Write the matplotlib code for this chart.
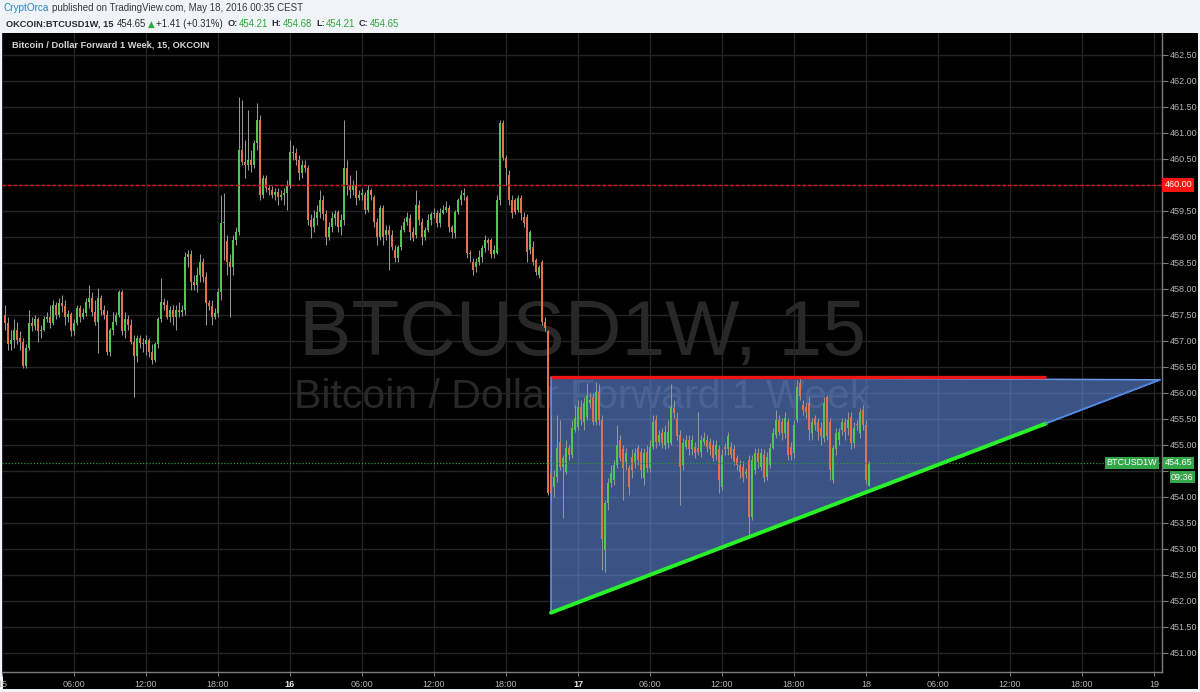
import numpy as np
import pandas as pd
import matplotlib
matplotlib.use("Agg")
import matplotlib.pyplot as plt
import matplotlib.dates as mdates
from matplotlib.patches import Rectangle, Polygon
from matplotlib.transforms import blended_transform_factory

plt.rcParams['font.family'] = ['Liberation Sans', 'DejaVu Sans']

# ---------------- data ----------------
start_time = '2016-05-15 00:15'
bar_freq = '15min'

opens = [457.50, 457.35, 456.93, 457.02, 457.21, 457.06, 456.98, 456.52, 456.87, 457.35,
         457.29, 457.41, 457.18, 457.21, 457.41, 457.46, 457.35, 457.69, 457.50, 457.73,
         457.67, 457.45, 457.52, 457.18, 457.35, 457.64, 457.45, 457.54, 457.75, 457.83,
         457.56, 457.37, 457.83, 457.60, 457.50, 456.79, 457.21, 457.37, 457.50, 457.93,
         457.18, 457.41, 457.31, 456.98, 456.70, 457.06, 456.96, 456.93, 457.02, 456.79,
         456.64, 456.93, 457.41, 457.75, 457.69, 457.46, 457.60, 457.46, 457.60, 457.56,
         457.60, 458.62, 458.66, 458.14, 458.08, 458.27, 458.52, 458.23, 457.73, 457.66,
         457.45, 457.54, 457.94, 459.27, 458.91, 458.52, 458.41, 458.94, 459.10, 460.67,
         460.44, 460.39, 460.48, 460.39, 460.81, 461.25, 459.81, 460.14, 459.94, 459.91,
         459.81, 459.87, 459.77, 459.81, 459.85, 460.00, 460.64, 460.62, 460.48, 460.23,
         460.39, 460.33, 459.33, 459.18, 459.37, 459.48, 459.71, 459.43, 459.00, 459.18,
         459.37, 459.48, 459.18, 459.33, 460.33, 460.00, 459.91, 460.00, 459.75, 459.81,
         459.81, 459.52, 459.91, 459.77, 459.29, 459.00, 459.56, 459.04, 459.14, 459.04,
         458.75, 458.60, 458.81, 459.14, 459.29, 459.37, 459.10, 459.04, 459.62, 459.29,
         459.00, 459.14, 459.33, 459.43, 459.46, 459.27, 459.46, 459.52, 459.56, 459.18,
         459.08, 459.48, 459.71, 459.81, 459.77, 458.69, 458.52, 458.41, 458.52, 458.62,
         458.79, 458.94, 458.94, 458.66, 458.69, 459.71, 461.19, 460.52, 460.19, 459.71,
         459.71, 459.52, 459.75, 459.39, 459.39, 458.75, 458.81, 458.56, 458.27, 458.52,
         457.37, 457.18, 454.43, 454.19, 454.39, 455.06, 454.58, 454.48, 454.94, 454.81,
         455.29, 455.35, 455.73, 455.43, 455.54, 455.81, 455.91, 455.44, 456.02, 455.48,
         452.98, 453.89, 454.27, 454.33, 454.62, 455.10, 454.91, 454.66, 454.56, 454.77,
         454.66, 454.94, 454.87, 454.37, 454.87, 454.56, 454.96, 455.48, 455.06, 455.23,
         455.00, 455.04, 455.04, 455.71, 455.52, 455.19, 454.62, 454.96, 455.10, 454.91,
         454.96, 454.94, 454.87, 455.06, 455.10, 455.06, 455.00, 454.81, 454.91, 454.19,
         454.96, 454.91, 454.96, 454.91, 454.75, 454.62, 454.58, 454.43, 454.71, 453.62,
         454.52, 454.85, 454.58, 454.81, 454.39, 454.62, 454.94, 455.19, 455.48, 455.43,
         455.23, 455.44, 454.96, 454.85, 455.48, 456.19, 455.77, 455.73, 455.81, 455.23,
         455.52, 455.43, 455.33, 455.14, 455.91, 455.44, 454.33, 454.91, 455.10, 455.29,
         455.43, 455.33, 455.54, 455.04, 455.39, 455.23, 455.67, 455.39, 454.21]

highs = [457.69, 457.45, 457.21, 457.41, 457.37, 457.18, 457.06, 456.93, 457.60, 457.45,
         457.50, 457.45, 457.31, 457.48, 457.56, 457.69, 457.79, 457.75, 457.83, 457.89,
         457.79, 457.60, 457.56, 457.41, 457.69, 457.69, 457.64, 457.83, 458.08, 457.94,
         457.79, 458.02, 457.89, 457.69, 457.60, 457.25, 457.56, 457.56, 457.98, 457.98,
         457.56, 457.50, 457.41, 457.12, 457.12, 457.12, 457.06, 457.12, 457.06, 456.93,
         456.98, 457.45, 458.21, 457.83, 457.79, 457.67, 457.69, 457.69, 457.75, 457.69,
         458.71, 458.75, 458.75, 458.27, 458.41, 458.66, 458.60, 458.33, 457.79, 457.79,
         457.64, 458.02, 459.81, 459.85, 459.04, 458.66, 459.04, 459.18, 461.68, 461.64,
         460.87, 461.44, 460.67, 460.87, 461.58, 461.35, 460.19, 460.19, 460.00, 459.98,
         459.94, 459.94, 459.91, 459.94, 460.10, 460.87, 460.77, 460.71, 460.58, 460.48,
         460.48, 460.39, 459.43, 459.52, 459.62, 459.91, 459.81, 459.52, 459.29, 459.48,
         459.52, 459.52, 459.43, 461.25, 460.48, 460.19, 460.10, 460.29, 459.91, 459.94,
         459.87, 460.00, 459.94, 459.81, 459.37, 459.62, 459.62, 459.23, 459.23, 459.14,
         458.85, 458.85, 459.23, 459.37, 459.48, 459.43, 459.18, 459.91, 459.71, 459.37,
         459.18, 459.43, 459.48, 459.56, 459.52, 459.56, 459.62, 459.68, 459.62, 459.23,
         459.52, 459.75, 459.91, 459.94, 459.81, 458.75, 458.60, 458.60, 458.75, 458.85,
         459.04, 458.98, 458.98, 458.85, 459.81, 461.25, 461.25, 460.58, 460.29, 459.81,
         459.75, 459.81, 459.81, 459.48, 459.43, 459.14, 458.91, 458.60, 458.46, 458.56,
         457.45, 457.21, 455.58, 454.52, 455.58, 455.48, 454.81, 455.10, 455.00, 455.48,
         455.77, 455.87, 455.87, 455.91, 456.19, 456.02, 456.00, 456.21, 456.16, 455.58,
         453.94, 454.37, 454.62, 454.71, 455.39, 455.19, 455.00, 454.94, 454.62, 454.91,
         454.94, 455.00, 454.94, 454.94, 455.00, 455.10, 455.58, 455.58, 455.29, 455.33,
         455.39, 455.48, 456.16, 455.87, 455.64, 455.29, 455.14, 455.19, 455.19, 455.19,
         455.06, 455.64, 455.19, 455.25, 455.19, 455.14, 455.10, 455.10, 455.00, 454.91,
         455.04, 455.25, 455.06, 455.00, 454.81, 454.71, 454.68, 454.56, 454.81, 454.81,
         454.94, 454.94, 454.94, 454.91, 454.87, 455.04, 455.33, 455.67, 455.58, 455.52,
         455.64, 455.52, 455.06, 455.48, 456.25, 456.29, 455.87, 455.83, 455.91, 455.52,
         455.58, 455.52, 455.44, 455.91, 455.96, 455.52, 455.00, 455.33, 455.33, 455.52,
         455.52, 455.64, 455.64, 455.43, 455.48, 455.71, 455.77, 455.48, 454.68]

lows = [457.21, 456.83, 456.83, 456.87, 456.93, 456.83, 456.48, 456.48, 456.83, 457.18,
        457.21, 456.98, 457.06, 457.18, 457.37, 457.25, 457.31, 457.41, 457.45, 457.56,
        457.31, 457.37, 457.10, 457.12, 457.31, 457.37, 457.41, 457.48, 457.64, 457.48,
        457.31, 456.77, 457.50, 457.41, 456.73, 456.71, 457.12, 457.31, 457.45, 457.12,
        457.06, 457.21, 456.93, 455.91, 456.60, 456.87, 456.79, 456.73, 456.68, 456.56,
        456.60, 456.87, 457.37, 457.60, 457.41, 457.37, 457.31, 457.21, 457.45, 457.48,
        457.50, 458.41, 457.98, 457.98, 457.94, 458.14, 458.14, 457.31, 457.60, 457.31,
        457.41, 457.45, 457.79, 458.56, 458.27, 457.45, 458.27, 458.85, 459.04, 460.39,
        460.14, 460.29, 460.25, 460.33, 460.67, 459.71, 459.75, 459.87, 459.81, 459.75,
        459.71, 459.62, 459.71, 459.62, 459.52, 459.94, 460.48, 460.39, 460.10, 460.14,
        460.25, 459.23, 458.98, 459.10, 459.23, 459.37, 459.33, 458.85, 458.94, 459.10,
        459.23, 459.10, 459.04, 459.23, 459.81, 459.75, 459.81, 459.62, 459.71, 459.71,
        459.43, 459.48, 459.71, 459.18, 458.85, 458.94, 458.85, 458.94, 458.37, 458.75,
        458.52, 458.52, 458.75, 459.10, 459.23, 458.94, 458.91, 458.98, 459.23, 458.85,
        458.94, 459.10, 459.23, 459.37, 459.18, 459.18, 459.43, 459.48, 459.10, 458.98,
        458.98, 459.43, 459.62, 459.71, 458.60, 458.52, 458.27, 458.33, 458.46, 458.52,
        458.71, 458.75, 458.60, 458.60, 458.66, 459.62, 460.48, 460.00, 459.62, 459.37,
        459.43, 459.48, 459.33, 459.18, 458.52, 458.66, 458.46, 458.27, 458.21, 457.31,
        457.18, 454.04, 453.94, 454.00, 454.29, 454.52, 453.60, 454.43, 454.71, 454.75,
        455.25, 455.29, 455.39, 455.29, 455.48, 455.71, 455.39, 455.39, 455.39, 452.60,
        452.56, 453.75, 454.18, 454.23, 454.56, 454.68, 453.94, 454.52, 454.04, 454.37,
        454.56, 454.62, 454.37, 454.23, 454.48, 454.48, 454.91, 454.94, 455.00, 454.94,
        454.91, 454.94, 455.00, 455.52, 455.10, 453.85, 454.52, 454.91, 454.81, 454.81,
        454.75, 454.81, 454.77, 455.00, 454.87, 454.81, 454.68, 454.71, 454.08, 454.14,
        454.81, 454.81, 454.75, 454.62, 454.52, 454.37, 454.29, 454.37, 453.23, 453.56,
        454.43, 454.56, 454.52, 454.29, 454.33, 454.56, 454.91, 455.14, 455.19, 455.10,
        455.14, 454.71, 454.71, 454.75, 455.43, 455.87, 455.58, 455.52, 455.10, 455.10,
        455.29, 455.10, 455.00, 455.06, 455.10, 454.33, 454.27, 454.81, 455.00, 455.19,
        455.10, 455.19, 454.91, 454.94, 455.29, 455.14, 455.29, 454.25, 454.21]

closes = [457.35, 456.93, 457.02, 457.21, 457.02, 456.98, 456.52, 456.87, 457.35, 457.29,
          457.41, 457.18, 457.21, 457.41, 457.46, 457.35, 457.69, 457.50, 457.73, 457.67,
          457.45, 457.52, 457.18, 457.35, 457.64, 457.45, 457.54, 457.75, 457.83, 457.56,
          457.37, 457.83, 457.60, 457.50, 456.79, 457.21, 457.37, 457.50, 457.93, 457.18,
          457.41, 457.31, 456.98, 456.70, 457.06, 456.96, 456.93, 457.02, 456.79, 456.64,
          456.93, 457.41, 457.75, 457.69, 457.46, 457.60, 457.46, 457.60, 457.56, 457.60,
          458.62, 458.66, 458.14, 458.08, 458.27, 458.52, 458.23, 457.73, 457.66, 457.45,
          457.54, 457.94, 459.27, 459.29, 458.52, 458.41, 458.94, 459.10, 460.67, 460.44,
          460.39, 460.48, 460.39, 460.81, 461.25, 459.81, 460.14, 459.94, 459.91, 459.81,
          459.87, 459.77, 459.81, 459.85, 460.00, 460.64, 460.62, 460.48, 460.23, 460.39,
          460.33, 459.33, 459.18, 459.37, 459.48, 459.71, 459.43, 459.00, 459.18, 459.37,
          459.43, 459.18, 459.33, 460.33, 460.00, 459.91, 460.00, 459.75, 459.81, 459.85,
          459.52, 459.91, 459.81, 459.29, 459.00, 459.56, 459.00, 459.14, 459.04, 458.81,
          458.60, 458.81, 459.14, 459.29, 459.39, 459.10, 458.98, 459.62, 459.33, 459.00,
          459.14, 459.33, 459.43, 459.46, 459.27, 459.46, 459.52, 459.58, 459.18, 459.10,
          459.48, 459.71, 459.81, 459.85, 458.69, 458.66, 458.37, 458.52, 458.62, 458.79,
          458.94, 458.89, 458.66, 458.75, 459.71, 461.19, 460.52, 460.33, 459.71, 459.46,
          459.48, 459.75, 459.46, 459.27, 458.71, 459.10, 458.52, 458.33, 458.41, 457.37,
          457.25, 454.08, 454.08, 454.39, 454.94, 454.58, 454.75, 454.94, 454.81, 455.33,
          455.52, 455.73, 455.48, 455.81, 455.93, 455.87, 455.44, 456.02, 455.48, 453.18,
          453.89, 454.27, 454.46, 454.62, 455.00, 454.75, 454.56, 454.85, 454.18, 454.52,
          454.85, 454.71, 454.52, 454.85, 454.56, 454.96, 455.44, 455.06, 455.19, 455.04,
          455.25, 455.25, 455.73, 455.62, 455.16, 454.58, 455.04, 455.10, 454.91, 455.10,
          454.85, 454.87, 455.10, 455.14, 454.96, 454.91, 454.75, 455.00, 454.33, 454.81,
          454.91, 455.16, 454.81, 454.68, 454.62, 454.48, 454.39, 454.48, 453.62, 454.71,
          454.85, 454.66, 454.85, 454.37, 454.77, 454.94, 455.23, 455.48, 455.25, 455.23,
          455.52, 454.81, 454.81, 455.39, 456.12, 455.93, 455.67, 455.64, 455.29, 455.43,
          455.39, 455.25, 455.16, 455.81, 455.16, 454.52, 454.94, 455.23, 455.25, 455.43,
          455.25, 455.48, 455.04, 455.33, 455.38, 455.64, 455.39, 454.33, 454.65]

tick_times = ['2016-05-15 00:00', '2016-05-15 06:00', '2016-05-15 12:00', '2016-05-15 18:00',
              '2016-05-16 00:00', '2016-05-16 06:00', '2016-05-16 12:00', '2016-05-16 18:00',
              '2016-05-17 00:00', '2016-05-17 06:00', '2016-05-17 12:00', '2016-05-17 18:00',
              '2016-05-18 00:00', '2016-05-18 06:00', '2016-05-18 12:00', '2016-05-18 18:00',
              '2016-05-19 00:00']
tick_labels = ['15', '06:00', '12:00', '18:00', '16', '06:00', '12:00', '18:00',
               '17', '06:00', '12:00', '18:00', '18', '06:00', '12:00', '18:00', '19']
bold_day_labels = ['16', '17']
price_ticks = [451.0, 451.5, 452.0, 452.5, 453.0, 453.5, 454.0, 454.5, 455.0, 455.5, 456.0,
               456.5, 457.0, 457.5, 458.0, 458.5, 459.0, 459.5, 460.0, 460.5, 461.0, 461.5,
               462.0, 462.5]
covered_ticks = [454.5, 460.0]   # scale labels hidden behind the price boxes

resistance_level = 460.00
last_price = 454.65
countdown = '09:36'
symbol = 'BTCUSD1W'

# drawing: ascending triangle
tri_times = ['2016-05-16 21:45', '2016-05-16 21:45', '2016-05-19 00:30']
tri_prices = [451.77, 456.30, 456.25]
top_line_times = ['2016-05-16 21:45', '2016-05-18 15:00']
top_line_prices = [456.30, 456.30]
support_times = ['2016-05-16 21:45', '2016-05-18 15:00']
support_prices = [451.77, 455.41]
ext_times = ['2016-05-18 15:00', '2016-05-19 00:30']
ext_prices = [455.41, 456.25]

x_range = ['2016-05-15 00:00', '2016-05-19 00:40']
y_range = [450.63, 462.92]

# ---------------- figure ----------------
W, H = 1200, 692
fig = plt.figure(figsize=(W / 100, H / 100), dpi=100, facecolor='#f0f3f7')


def fx(px):
    return px / W


def fy(py):
    return 1 - py / H


def dn(ts):
    return mdates.date2num(pd.to_datetime(ts).to_pydatetime())


# black chart panel
fig.add_artist(Rectangle((fx(3), fy(689)), fx(1195), (689 - 33) / H,
                         transform=fig.transFigure, facecolor='black',
                         edgecolor='none', zorder=0))

ax = fig.add_axes([fx(2), fy(672), (1162 - 2) / W, (672 - 33) / H])
ax.set_facecolor('black')

times = pd.date_range(start_time, periods=len(opens), freq=bar_freq)
x = mdates.date2num(times.to_pydatetime())
o = np.array(opens)
c = np.array(closes)
hi = np.array(highs)
lo = np.array(lows)
up = c >= o

bar_w = (x[1] - x[0]) * 0.66
up_col = '#52c652'
dn_col = '#e2714f'
wick_col = '#959595'

ax.vlines(x, lo, hi, color=wick_col, lw=0.75, zorder=3)
body_h = np.maximum(np.abs(c - o), 0.02)
body_b = np.minimum(o, c)
ax.bar(x[up], body_h[up], bottom=body_b[up], width=bar_w, color=up_col,
       edgecolor='none', zorder=4)
ax.bar(x[~up], body_h[~up], bottom=body_b[~up], width=bar_w, color=dn_col,
       edgecolor='none', zorder=4)

# watermark
ax.text(0.5, 0.496, 'BTCUSD1W, 15', transform=ax.transAxes, ha='center', va='baseline',
        fontsize=56.5, color='#282828', zorder=1)
ax.text(0.5, 0.413, 'Bitcoin / Dollar Forward 1 Week', transform=ax.transAxes,
        ha='center', va='baseline', fontsize=29.5, color='#282828', zorder=1)

# triangle fill
poly = Polygon(np.column_stack([dn(tri_times), tri_prices]), closed=True,
               facecolor=(0.38, 0.55, 0.87, 0.6), edgecolor='#6a98e6', lw=1.1, zorder=2)
ax.add_patch(poly)

# horizontal price lines
ax.axhline(resistance_level, color='#e3120f', lw=1.0, ls=(0, (2.5, 1.5)), zorder=5)
ax.axhline(last_price, color='#2f9a38', lw=0.9, ls=(0, (1, 1.5)), zorder=5)

# trend lines
ax.plot(dn(top_line_times), top_line_prices, color='#f01414', lw=2.4, zorder=6,
        solid_capstyle='butt')
ax.plot(dn(support_times), support_prices, color='#2af22a', lw=2.8, zorder=6,
        solid_capstyle='round')
ax.plot(dn(ext_times), ext_prices, color='#4f86e3', lw=1.2, zorder=6)

# axes
ax.set_xlim(dn(x_range))
ax.set_ylim(y_range)
ax.set_xticks(dn(tick_times))
ax.set_xticklabels(tick_labels)
ax.set_yticks(price_ticks)
ax.set_yticklabels(['' if p in covered_ticks else f'{p:.2f}' for p in price_ticks])
ax.yaxis.tick_right()
ax.grid(True, color='#242424', lw=1.0, zorder=0.5)
ax.set_axisbelow(True)
ax.tick_params(axis='y', colors='#b5b5b5', labelsize=6.5, length=4, width=0.8, pad=1.5)
ax.tick_params(axis='x', colors='#b5b5b5', labelsize=6.5, length=3, width=0.8, pad=3)
for lab in ax.get_xticklabels():
    if lab.get_text() in bold_day_labels:
        lab.set_fontweight('bold')
        lab.set_color('#e6e6e6')
for side in ['left', 'top']:
    ax.spines[side].set_visible(False)
for side in ['right', 'bottom']:
    ax.spines[side].set_color('#7c7c7c')
    ax.spines[side].set_linewidth(1.0)
ax.tick_params(axis='both', which='both', color='#7c7c7c')

# price labels on the scale
blend = blended_transform_factory(ax.transAxes, ax.transData)
ax.text(1.0 + 2.5 / 1160, resistance_level, f'{resistance_level:.2f}', transform=blend,
        ha='left', va='center', fontsize=6.5, color='white', zorder=10, clip_on=False,
        bbox=dict(boxstyle='square,pad=0.25', fc='#ff1212', ec='none'))
ax.text(1.0 + 2.5 / 1160, last_price, f'{last_price:.2f}', transform=blend,
        ha='left', va='center', fontsize=6.5, color='white', zorder=10, clip_on=False,
        bbox=dict(boxstyle='square,pad=0.2', fc='#33a64a', ec='none'))
ax.text(1.0 + 9 / 1160, last_price - 0.275, countdown, transform=blend,
        ha='left', va='center', fontsize=6.5, color='white', zorder=10, clip_on=False,
        bbox=dict(boxstyle='square,pad=0.15', fc='#33a64a', ec='none'))
ax.text(1.0 - 5 / 1160, last_price, symbol, transform=blend,
        ha='right', va='center', fontsize=6.5, color='white', zorder=10, clip_on=False,
        bbox=dict(boxstyle='square,pad=0.2', fc='#33a64a', ec='none'))

# chart title inside the panel
fig.text(fx(12), fy(45), 'Bitcoin / Dollar Forward 1 Week, 15, OKCOIN', ha='left',
         va='center', fontsize=6.7, color='#d6d6d6', fontweight='bold')

# header (pieces laid out one after another)
renderer = fig.canvas.get_renderer()


def chain(parts, x0, y):
    xpos = x0
    for txt, col, wt, size, gap, fam in parts:
        kw = {}
        if fam:
            kw['family'] = fam
        t = fig.text(fx(xpos), fy(y), txt, ha='left', va='center', fontsize=size,
                     color=col, fontweight=wt, **kw)
        bb = t.get_window_extent(renderer)
        xpos = bb.x1 + gap


dark = '#2b2b2b'
green = '#2fa83c'
chain([('CryptOrca', '#2a86c4', 'normal', 7.2, 3, None),
       ('published on TradingView.com, May 18, 2016 00:35 CEST', '#3a3a3a', 'normal',
        7.0, 0, None)], 4, 8)
chain([('OKCOIN:BTCUSD1W, 15', dark, 'bold', 6.7, 3, None),
       ('454.65', dark, 'normal', 6.9, 2, None),
       ('\u25b2', green, 'normal', 6.3, 2, ['DejaVu Sans']),
       ('+1.41 (+0.31%)', dark, 'normal', 6.9, 4, None),
       ('O:', dark, 'bold', 6.7, 1, None), ('454.21', green, 'normal', 6.9, 4, None),
       ('H:', dark, 'bold', 6.7, 1, None), ('454.68', green, 'normal', 6.9, 4, None),
       ('L:', dark, 'bold', 6.7, 1, None), ('454.21', green, 'normal', 6.9, 4, None),
       ('C:', dark, 'bold', 6.7, 1, None), ('454.65', green, 'normal', 6.9, 0, None)],
      6, 24)

fig.savefig('out.png', dpi=100, facecolor=fig.get_facecolor())
